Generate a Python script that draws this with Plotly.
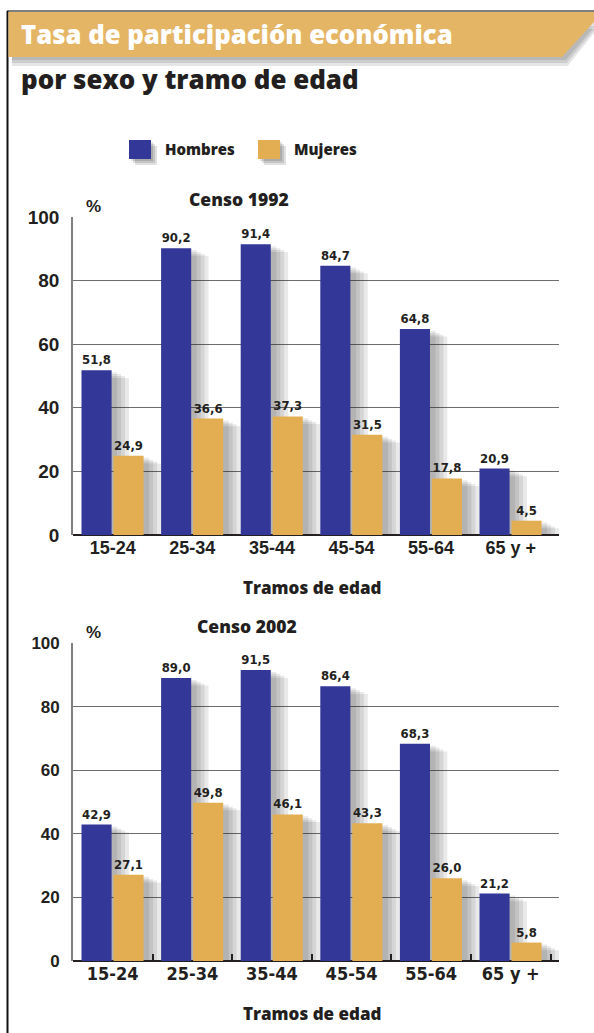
import plotly.graph_objects as go

# ---------------- data ----------------
categories = ["15-24", "25-34", "35-44", "45-54", "55-64", "65 y +"]
hombres_1992 = [51.8, 90.2, 91.4, 84.7, 64.8, 20.9]
mujeres_1992 = [24.9, 36.6, 37.3, 31.5, 17.8, 4.5]
hombres_2002 = [42.9, 89.0, 91.5, 86.4, 68.3, 21.2]
mujeres_2002 = [27.1, 49.8, 46.1, 43.3, 26.0, 5.8]
y_ticks = [0, 20, 40, 60, 80, 100]
series_names = ["Hombres", "Mujeres"]

# ---------------- style ----------------
W, H = 594, 1033
BLUE = "#333797"
GOLD = "#E3AE52"
DARK = "#231F20"
HEAD = "Open Sans, Lato, Liberation Sans, sans-serif"
NUM = "Liberation Sans, Arial, sans-serif"
NARROW = "Liberation Sans Narrow, DejaVu Sans Condensed, Liberation Sans, sans-serif"


def px(x):
    return x / W


def py(y):
    return 1 - y / H


X_DOM = [px(72.9), px(558.9)]
Y1_DOM = [py(535), py(217)]
Y2_DOM = [py(961), py(643)]

BW = 0.378          # bar width (category units)
OFF_H = -0.392      # Hombres offset
OFF_M = 0.010       # Mujeres offset
SW = 4.0 / 81.0     # shadow step

fig = go.Figure()


def add_chart(h_vals, m_vals, xa, ya):
    # soft drop shadows
    for vals, off in ((h_vals, OFF_H), (m_vals, OFF_M)):
        for k in range(1, 5):
            fig.add_trace(go.Bar(
                x=categories, y=[v - 0.6 * k for v in vals],
                width=BW + k * SW, offset=off + 0.02,
                marker=dict(color="rgba(40,40,40,0.10)", line=dict(width=0)),
                xaxis=xa, yaxis=ya, hoverinfo="skip", showlegend=False))
    for vals, off, col, name in ((h_vals, OFF_H, BLUE, series_names[0]),
                                 (m_vals, OFF_M, GOLD, series_names[1])):
        fig.add_trace(go.Bar(
            x=categories, y=vals, name=name, width=BW, offset=off,
            marker=dict(color=col, line=dict(width=0)),
            texttemplate="%{y:.1f}", textposition="outside",
            textfont=dict(family=NARROW, size=13, color=DARK, weight=700),
            cliponaxis=False, xaxis=xa, yaxis=ya, showlegend=False))


add_chart(hombres_1992, mujeres_1992, "x", "y")
add_chart(hombres_2002, mujeres_2002, "x2", "y2")

yaxis_common = dict(
    range=[0, 100], tickvals=y_ticks, showgrid=True, gridcolor="#6d6d6d",
    gridwidth=1.3, showline=True, linecolor="#808080", linewidth=1.5,
    zeroline=True, zerolinecolor=DARK, zerolinewidth=2.2, ticks="",
    ticklabelstandoff=8, fixedrange=True)

fig.update_layout(
    width=W, height=H, margin=dict(l=0, r=0, t=0, b=0, autoexpand=False),
    autosize=False,
    paper_bgcolor="white", plot_bgcolor="white",
    barmode="overlay", separators=",.", showlegend=False,
    xaxis=dict(domain=X_DOM, anchor="y", type="category", showgrid=False,
               tickfont=dict(family=NUM, size=18, color=DARK, weight=700),
               ticks="", fixedrange=True),
    xaxis2=dict(domain=X_DOM, anchor="y2", type="category", showgrid=False,
                tickfont=dict(family=NARROW, size=18, color=DARK, weight=700),
                ticks="inside", tickson="boundaries", ticklen=7,
                tickcolor=DARK, tickwidth=2, fixedrange=True),
    yaxis=dict(domain=Y1_DOM, anchor="x",
               tickfont=dict(family=NUM, size=19, color=DARK, weight=900),
               **yaxis_common),
    yaxis2=dict(domain=Y2_DOM, anchor="x2",
                tickfont=dict(family=NUM, size=17, color=DARK, weight=700),
                **yaxis_common),
)

shapes = []
# frame lines
shapes.append(dict(type="line", xref="paper", yref="paper", x0=px(7), x1=px(594),
                   y0=py(11), y1=py(11), line=dict(color="#555", width=1.5)))
shapes.append(dict(type="line", xref="paper", yref="paper", x0=px(7.5), x1=px(7.5),
                   y0=py(11), y1=py(1033), line=dict(color="#111", width=2)))


def poly(pts):
    return "M " + " L ".join(f"{px(a):.5f},{py(b):.5f}" for a, b in pts) + " Z"


# banner shadow
for i in range(3):
    d = 3 + 3 * i
    shapes.append(dict(type="path", xref="paper", yref="paper",
                       path=poly([(12, 20), (594, 20 + d), (594, 24 + d),
                                  (565 + d * 0.3, 57 + d), (12, 57 + d)]),
                       fillcolor="rgba(0,0,0,0.10)", line=dict(width=0), layer="below"))
# banner
shapes.append(dict(type="path", xref="paper", yref="paper",
                   path=poly([(8.5, 12), (594, 12), (594, 22), (562, 57), (8.5, 57)]),
                   fillcolor="#E4B564", line=dict(width=0)))

# legend squares with shadows
for x0, col in ((129, BLUE), (258, GOLD)):
    for k in range(1, 4):
        shapes.append(dict(type="rect", xref="paper", yref="paper",
                           x0=px(x0 + 2 * k), x1=px(x0 + 22 + 2 * k),
                           y0=py(140 + 2 * k), y1=py(159 + 2 * k),
                           fillcolor="rgba(0,0,0,0.12)", line=dict(width=0)))
    shapes.append(dict(type="rect", xref="paper", yref="paper",
                       x0=px(x0), x1=px(x0 + 22), y0=py(140), y1=py(159),
                       fillcolor=col, line=dict(width=0)))

fig.update_layout(shapes=shapes)


def ann(text, x, y, size, color=DARK, family=HEAD, xanchor="left", weight=800):
    fig.add_annotation(text=text, x=px(x), y=py(y), xref="paper", yref="paper",
                       xanchor=xanchor, yanchor="middle", showarrow=False,
                       font=dict(family=family, size=size, color=color, weight=weight))


ann("Tasa de participación económica", 19, 34, 25.7, color="white")
ann("por sexo y tramo de edad", 19, 79, 25.9)
ann(series_names[0], 163, 149, 15)
ann(series_names[1], 292, 149, 15)
ann("Censo 1992", 239, 199, 17.5, xanchor="center")
ann("Censo 2002", 247, 626, 17.5, xanchor="center")
ann("%", 93, 206, 17, xanchor="center", family=NUM, weight=700)
ann("%", 93, 632, 17, xanchor="center", family=NUM, weight=700)
ann("Tramos de edad", 312, 587, 17, xanchor="center")
ann("Tramos de edad", 312, 1013, 17, xanchor="center")

fig.write_html("out.html", config={"displayModeBar": False, "responsive": False})
with open("out.html", "r", encoding="utf-8") as f:
    html = f.read()
css = ("<style>html,body{margin:0!important;padding:0!important;overflow:hidden;"
       "width:594px;height:1033px}"
       ".plotly-graph-div{position:absolute!important;top:0;left:0}</style>")
if "<head>" in html:
    html = html.replace("<head>", "<head>" + css, 1)
else:
    html = css + html
with open("out.html", "w", encoding="utf-8") as f:
    f.write(html)
